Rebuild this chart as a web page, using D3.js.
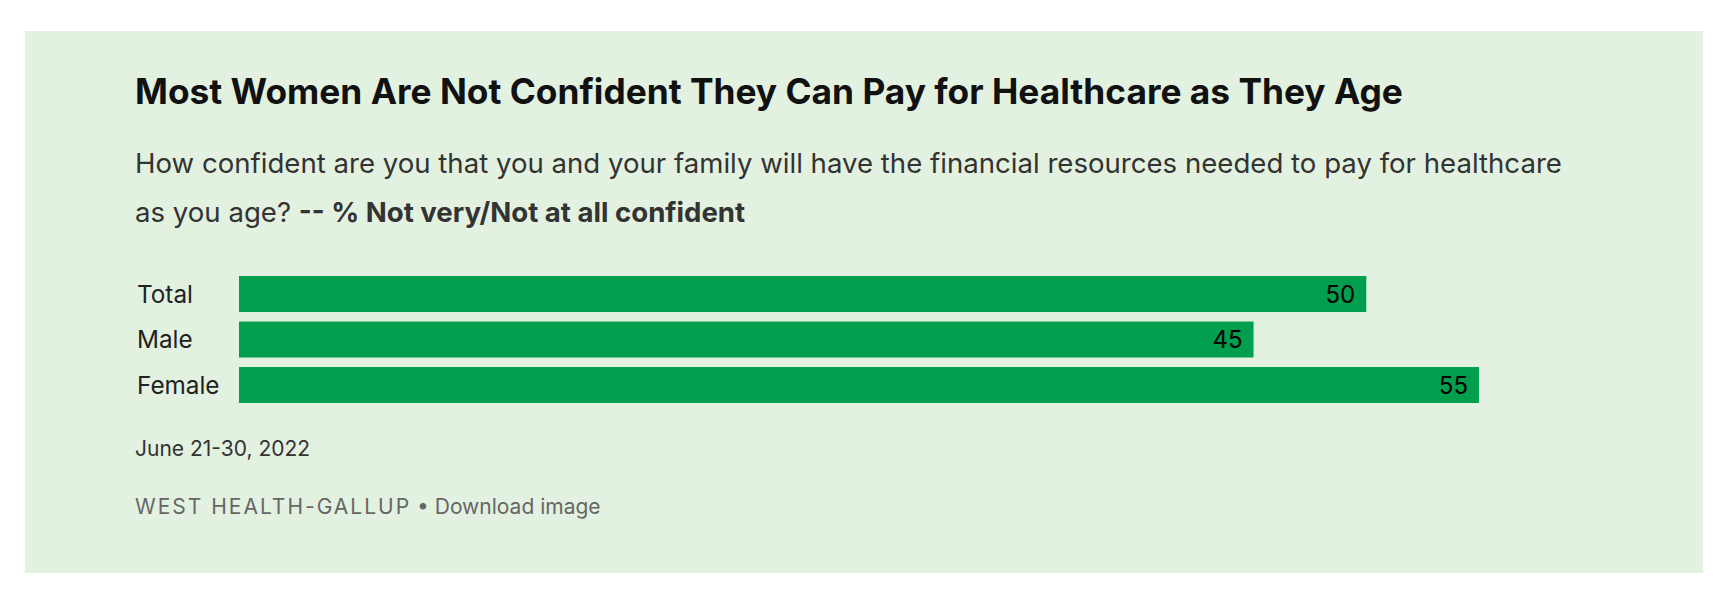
<!DOCTYPE html>
<html>
<head>
<meta charset="utf-8">
<script src="https://cdn.jsdelivr.net/npm/d3@7"></script>
<style>
  body { margin: 0; background: #fff; }
  text { font-family: Inter, "Noto Sans", sans-serif; }
</style>
</head>
<body>
<div id="chart"></div>
<script>
// Data
const categories = ["Total", "Male", "Female"];
const values = [50, 45, 55];
const title = "Most Women Are Not Confident They Can Pay for Healthcare as They Age";
const subtitleLine1 = "How confident are you that you and your family will have the financial resources needed to pay for healthcare";
const subtitleLine2 = "as you age? ";
const subtitleBold = "-- % Not very/Not at all confident";
const dateNote = "June 21-30, 2022";
const sourceName = "WEST HEALTH-GALLUP";
const sourceLink = " \u2022 Download image";

const W = 1720, H = 609;

const svg = d3.select("#chart")
    .append("svg")
    .attr("width", W)
    .attr("height", H);

// Panel background
svg.append("rect")
    .attr("x", 25)
    .attr("y", 31)
    .attr("width", 1678)
    .attr("height", 542)
    .attr("fill", "#e3f1e0");

// Title
svg.append("text")
    .attr("x", 135)
    .attr("y", 104)
    .attr("font-size", 35.3)
    .attr("font-weight", 700)
    .attr("fill", "#111")
    .text(title);

// Subtitle
svg.append("text")
    .attr("x", 135)
    .attr("y", 173)
    .attr("font-size", 27.6)
    .attr("fill", "#333")
    .text(subtitleLine1);

const sub2 = svg.append("text")
    .attr("x", 135)
    .attr("y", 222)
    .attr("font-size", 27.6)
    .attr("fill", "#333");
sub2.append("tspan").text(subtitleLine2);
sub2.append("tspan").attr("font-weight", 700).text(subtitleBold);

// Scales
const x = d3.scaleLinear()
    .domain([0, 55])
    .range([239, 1479]);

const y = d3.scaleBand()
    .domain(categories)
    .range([276, 403])
    .paddingInner(0.21)
    .paddingOuter(0);

const rows = categories.map((c, i) => ({cat: c, val: values[i]}));

// Bars
svg.selectAll(".bar")
    .data(rows)
    .enter()
    .append("rect")
    .attr("class", "bar")
    .attr("x", x(0))
    .attr("y", d => y(d.cat))
    .attr("width", d => x(d.val) - x(0))
    .attr("height", y.bandwidth())
    .attr("fill", "#009e4d");

// Category labels
svg.selectAll(".cat")
    .data(rows)
    .enter()
    .append("text")
    .attr("class", "cat")
    .attr("x", 137)
    .attr("y", d => y(d.cat) + y.bandwidth() / 2)
    .attr("dy", "0.36em")
    .attr("font-size", 24.3)
    .attr("fill", "#222")
    .text(d => d.cat);

// Value labels
svg.selectAll(".val")
    .data(rows)
    .enter()
    .append("text")
    .attr("class", "val")
    .attr("x", d => x(d.val) - 11)
    .attr("y", d => y(d.cat) + y.bandwidth() / 2)
    .attr("dy", "0.36em")
    .attr("text-anchor", "end")
    .attr("font-size", 24)
    .attr("fill", "#000")
    .text(d => d.val);

// Date note
svg.append("text")
    .attr("x", 135)
    .attr("y", 456)
    .attr("font-family", "Roboto, sans-serif")
    .attr("font-size", 21)
    .attr("fill", "#333")
    .text(dateNote);

// Source
const src = svg.append("text")
    .attr("x", 135)
    .attr("y", 514)
    .attr("font-family", "Roboto, sans-serif")
    .attr("font-size", 21)
    .attr("fill", "#666");
src.append("tspan").attr("letter-spacing", "2px").text(sourceName);
src.append("tspan").text(sourceLink);
</script>
</body>
</html>
